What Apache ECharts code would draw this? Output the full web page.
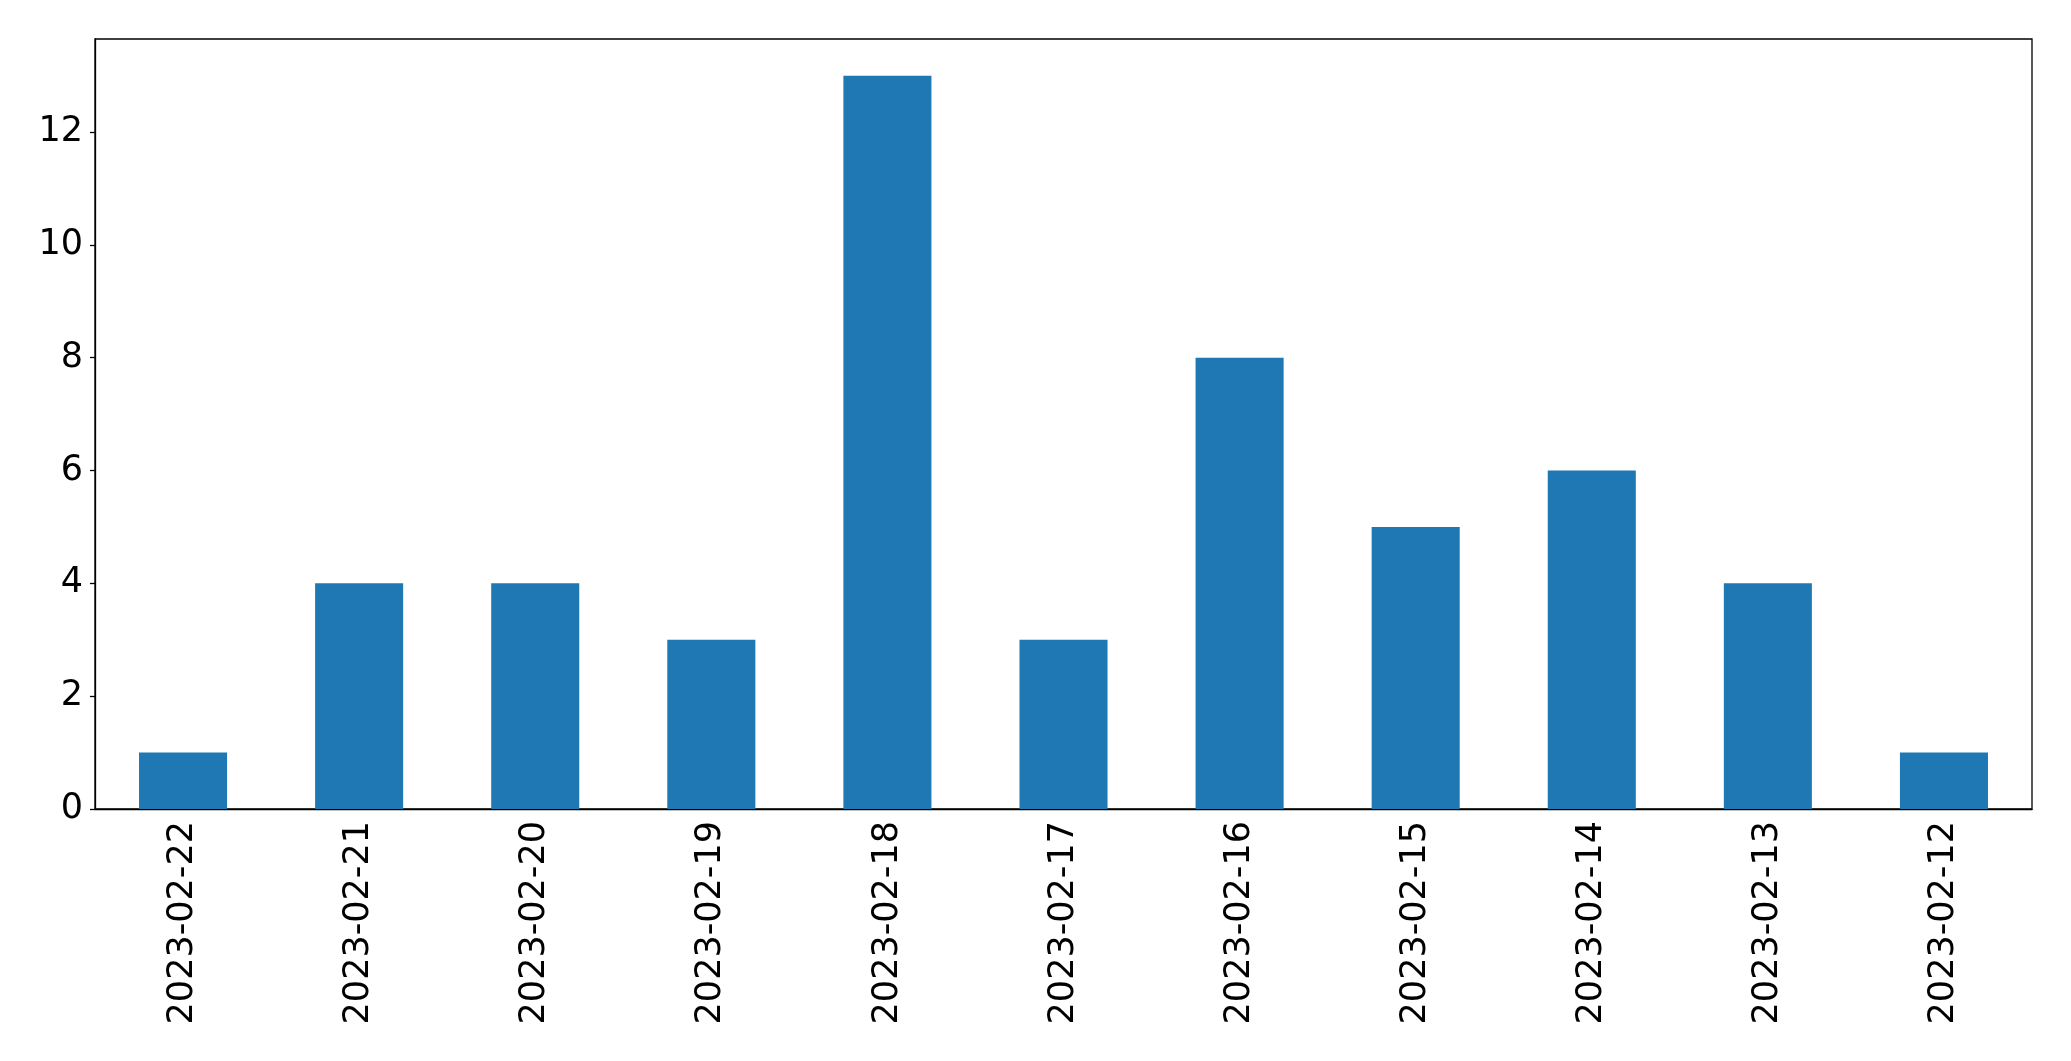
<!DOCTYPE html>
<html>
<head>
<meta charset="utf-8">
<script src="https://cdn.jsdelivr.net/npm/echarts@6/dist/echarts.min.js"></script>
<style>html,body{margin:0;padding:0;background:#fff;}#c{width:2071px;height:1061px;}</style>
</head>
<body>
<div id="c"></div>
<script>
const categories = ["2023-02-22","2023-02-21","2023-02-20","2023-02-19","2023-02-18","2023-02-17","2023-02-16","2023-02-15","2023-02-14","2023-02-13","2023-02-12"];
const counts = [1, 4, 4, 3, 13, 3, 8, 5, 6, 4, 1];
const yTicks = [0, 2, 4, 6, 8, 10, 12];

const chart = echarts.init(document.getElementById('c'), null, {renderer: 'canvas'});
const font = 'DejaVu Sans';
chart.setOption({
  animation: false,
  backgroundColor: '#ffffff',
  grid: {left: 95, right: 39, top: 39, bottom: 252, show: true, borderColor: '#000', borderWidth: 1.3, containLabel: false},
  xAxis: {
    type: 'category',
    data: categories,
    axisLine: {lineStyle: {color: '#000', width: 1.3}},
    axisTick: {alignWithLabel: true, length: 5, lineStyle: {color: '#000', width: 1.3}},
    axisLabel: {rotate: 90, fontFamily: font, fontSize: 35, color: '#000', margin: 12, interval: 0}
  },
  yAxis: {
    type: 'value',
    min: 0, max: 13.65, interval: 2,
    splitLine: {show: false},
    axisLine: {show: true, lineStyle: {color: '#000', width: 1.3}},
    axisTick: {show: true, length: 5, lineStyle: {color: '#000', width: 1.3}, customValues: yTicks},
    axisLabel: {fontFamily: font, fontSize: 35, color: '#000', margin: 12, customValues: yTicks}
  },
  series: [{
    type: 'bar',
    data: counts,
    barWidth: '50%',
    itemStyle: {color: '#1f77b4'}
  }]
});
</script>
</body>
</html>
